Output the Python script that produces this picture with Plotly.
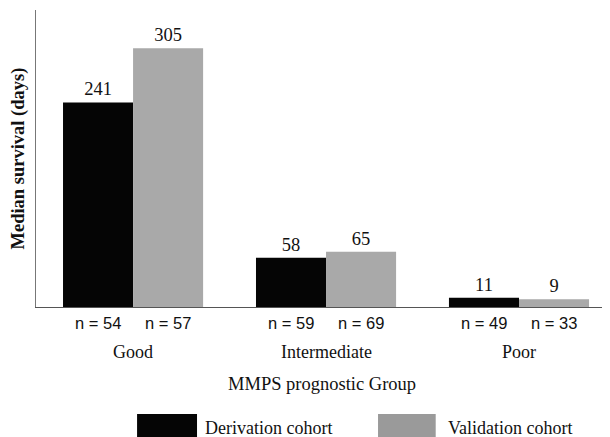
import plotly.graph_objects as go

groups = ["Good", "Intermediate", "Poor"]
derivation = [241, 58, 11]
validation = [305, 65, 9]
n_derivation = [54, 59, 49]
n_validation = [57, 69, 33]
series_names = ["Derivation cohort", "Validation cohort"]
colors = ["#050505", "#a9a9a9"]
legend_colors = ["#050505", "#9a9a9a"]

serif = "Liberation Serif, Times New Roman, serif"
sans = "Liberation Sans, Arial, sans-serif"

xpos = list(range(len(groups)))
bargap = 0.274
bar_w = (1 - bargap) / 2

fig = go.Figure()
for vals, name, col in [(derivation, series_names[0], colors[0]),
                        (validation, series_names[1], colors[1])]:
    fig.add_trace(go.Bar(
        x=xpos, y=vals, name=name, marker=dict(color=col, line=dict(width=0)),
        text=[str(v) for v in vals], textposition="outside",
        textfont=dict(family=serif, size=18.5, color="#111"),
        cliponaxis=False, showlegend=False,
    ))

annotations = []
for i, g in enumerate(groups):
    for off, n in [(-bar_w / 2, n_derivation[i]), (bar_w / 2, n_validation[i])]:
        annotations.append(dict(x=i + off, y=0, xref="x", yref="paper",
                                text=f"n = {n}", showarrow=False, yanchor="middle",
                                yshift=-16, font=dict(family=sans, size=16.5, color="#111")))
    annotations.append(dict(x=i, y=0, xref="x", yref="paper", text=g,
                            showarrow=False, yanchor="middle", yshift=-45,
                            font=dict(family=serif, size=18, color="#111")))

annotations.append(dict(x=0.5, y=0, xref="paper", yref="paper",
                        text="MMPS prognostic Group", showarrow=False,
                        yanchor="middle", yshift=-77,
                        font=dict(family=serif, size=18.5, color="#111")))
annotations.append(dict(x=0, y=0.5, xref="paper", yref="paper", xshift=-18,
                        xanchor="center", yanchor="middle", borderpad=0,
                        text="<b>Median survival (days)</b>", showarrow=False,
                        textangle=-90, font=dict(family=serif, size=18.5, color="#111")))

shapes = []
legend_items = [(0.177, 0.282, 0.292), (0.599, 0.700, 0.718)]
for (x0, x1, tx), name, col in zip(legend_items, series_names, legend_colors):
    shapes.append(dict(type="rect", xref="paper", yref="paper",
                       x0=x0, x1=x1, y0=-0.46, y1=-0.360,
                       fillcolor=col, line=dict(width=0)))
    annotations.append(dict(x=tx, y=-0.407, xref="paper", yref="paper",
                            text=name, showarrow=False, xanchor="left",
                            yanchor="middle",
                            font=dict(family=serif, size=18, color="#111")))

# page body adds an 8px margin, so the figure is sized to fit the 610x437 window
fig.update_layout(
    width=602, height=429,
    margin=dict(l=28, r=3, t=2, b=130),
    paper_bgcolor="white", plot_bgcolor="white",
    barmode="group", bargap=bargap, bargroupgap=0,
    xaxis=dict(range=[-0.503, 2.456], showticklabels=False, ticks="",
               showgrid=False, zeroline=False, showline=True,
               linecolor="#555", linewidth=1),
    yaxis=dict(range=[0, 350], showticklabels=False, ticks="",
               showgrid=False, zeroline=False, showline=True,
               linecolor="#777", linewidth=1),
    annotations=annotations, shapes=shapes,
)

fig.write_html("out.html")
